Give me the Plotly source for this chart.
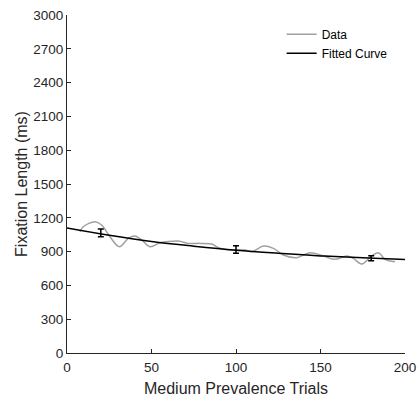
import plotly.graph_objects as go

# Gray "Data" curve (trial, fixation ms)
data_t = [7.7, 9.6, 16.6, 20.5, 25.4, 31, 36.3, 40.2, 44.2, 49.1, 55, 59, 65.9, 71.8, 78.7,
          85.6, 90.5, 96.4, 105.3, 109.3, 116.2, 122.1, 128, 135.9, 143.8, 151.7, 158.6,
          165.5, 169.4, 174.4, 180.3, 184.3, 188.2, 194.1]
data_v = [1076, 1121, 1165, 1136, 1032, 943, 1017, 1038, 1003, 943, 979, 988, 994, 973, 973,
          967, 929, 914, 914, 899, 949, 929, 870, 846, 890, 861, 831, 861, 840, 790, 861,
          890, 831, 810]

# Fitted curve samples
fit_t = [0, 25, 50, 75, 100, 125, 150, 175, 200]
fit_v = [1110, 1045, 990, 948, 912, 885, 862, 845, 830]

# Error bar points
err_t = [20, 100, 180]
err_v = [1066, 918, 841]
err_e = [34, 33, 22]

xticks = [0, 50, 100, 150, 200]
yticks = [0, 300, 600, 900, 1200, 1500, 1800, 2100, 2400, 2700, 3000]

fig = go.Figure()
fig.add_trace(go.Scatter(x=data_t, y=data_v, mode="lines", name="Data",
                         line=dict(color="#a0a0a0", width=1.5, shape="spline", smoothing=1.0)))
fig.add_trace(go.Scatter(x=fit_t, y=fit_v, mode="lines", name="Fitted Curve",
                         line=dict(color="black", width=1.5, shape="spline")))
fig.add_trace(go.Scatter(x=err_t, y=err_v, mode="markers", showlegend=False,
                         marker=dict(size=1, color="black"),
                         error_y=dict(type="data", array=err_e, color="black",
                                      thickness=1.5, width=3)))

axis_common = dict(showline=True, linecolor="#262626", linewidth=1, ticks="inside",
                   ticklen=4, tickcolor="#262626", showgrid=False, zeroline=False,
                   mirror=False, automargin=False, ticklabeloverflow="allow",
                   tickfont=dict(size=13.5, color="#262626"))

fig.update_layout(
    width=419, height=403,
    margin=dict(l=67, r=14, t=15, b=50),
    paper_bgcolor="white", plot_bgcolor="white",
    font=dict(family="Liberation Sans, Arial, sans-serif", color="#262626"),
    xaxis=dict(range=[0, 200], tickvals=xticks, ticklabelstandoff=2,
               title=dict(text="Medium Prevalence Trials", font=dict(size=16), standoff=8),
               **axis_common),
    yaxis=dict(range=[0, 3000], tickvals=yticks,
               title=dict(text="Fixation Length (ms)", font=dict(size=16), standoff=1),
               **axis_common),
    legend=dict(x=0.635, y=0.986, xanchor="left", yanchor="top",
                bgcolor="rgba(0,0,0,0)", font=dict(size=12, color="black"),
                tracegroupgap=0, itemwidth=30),
)

fig.write_html("out.html", config={"displayModeBar": False},
               post_script="document.body.style.margin='0';document.body.style.overflow='hidden';")
